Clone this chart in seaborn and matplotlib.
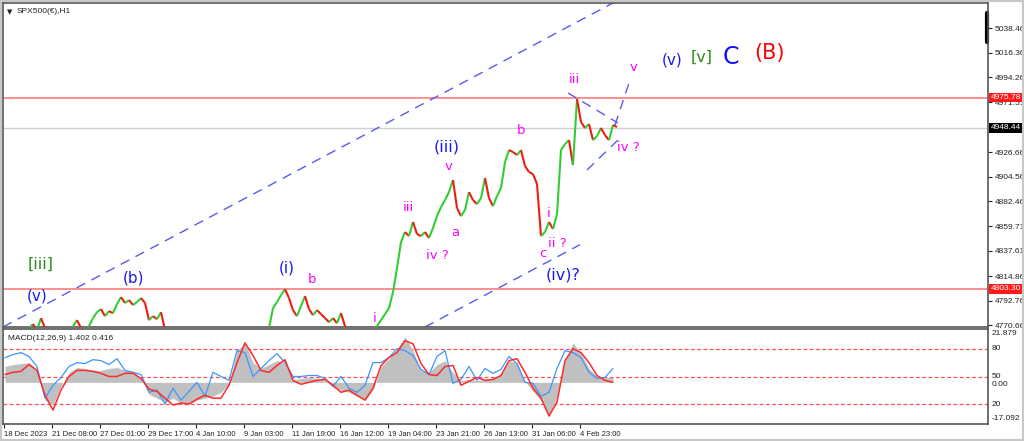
import numpy as np
import pandas as pd
import matplotlib
matplotlib.use("Agg")
import matplotlib.pyplot as plt
import matplotlib.transforms as mtrans
from matplotlib.collections import LineCollection
from matplotlib.patches import Rectangle
import seaborn as sns

# ---------------- data ----------------
close = [4757.1, 4760.7, 4758.9, 4763.4, 4760.7, 4764.3, 4767.9, 4771.5, 4766.1, 4776.9,
         4767.9, 4762.5, 4757.1, 4752.6, 4755.3, 4758.9, 4764.3, 4769.7, 4775.1, 4767.9,
         4764.3, 4769.7, 4776.9, 4782.3, 4785.0, 4778.7, 4783.2, 4781.4, 4789.6, 4795.9,
         4790.5, 4793.2, 4788.7, 4791.4, 4795.0, 4790.5, 4775.1, 4778.7, 4776.0, 4782.3,
         4766.1, 4758.9, 4753.5, 4749.9, 4752.6, 4748.1, 4751.7, 4755.3, 4758.9, 4754.4,
         4750.8, 4753.5, 4757.1, 4752.6, 4749.0, 4746.3, 4750.8, 4754.4, 4758.9, 4762.5,
         4760.7, 4757.1, 4752.6, 4757.1, 4760.7, 4764.3, 4767.9, 4785.9, 4791.4, 4797.7,
         4803.0, 4795.0, 4784.1, 4778.7, 4787.7, 4796.8, 4785.0, 4779.6, 4784.1, 4780.5,
         4776.9, 4773.3, 4776.9, 4772.4, 4781.4, 4769.7, 4764.3, 4758.9, 4755.3, 4758.0,
         4761.6, 4758.9, 4763.4, 4769.7, 4775.1, 4780.5, 4785.9, 4800.4, 4822.0, 4845.5,
         4854.5, 4850.9, 4863.5, 4852.7, 4850.9, 4854.5, 4849.1, 4858.1, 4868.9, 4877.0,
         4883.3, 4890.5, 4901.4, 4876.1, 4868.9, 4874.3, 4890.5, 4883.3, 4879.7, 4885.1,
         4903.2, 4885.1, 4877.9, 4886.9, 4894.2, 4917.6, 4928.4, 4926.6, 4923.9, 4928.4,
         4914.0, 4908.6, 4906.8, 4897.8, 4850.9, 4854.5, 4863.5, 4857.2, 4870.7, 4928.4,
         4933.8, 4937.4, 4914.9, 4974.5, 4953.7, 4948.3, 4951.9, 4937.4, 4941.0, 4948.3,
         4941.9, 4937.4, 4951.0, 4949.2]

macd_hist = [6.5, 7.3, 7.7, 8.1, 5.3, -7.3, -9.3, -1.6, 4.1, 6.1,
             5.7, 4.9, 4.9, 5.7, 6.1, 4.9, 4.5, 1.6, -4.9, -6.5,
             -8.1, -6.5, -8.5, -8.9, -7.3, -6.5, -5.7, -4.1, -0.8, 13.0,
             16.2, 8.1, 5.7, 7.3, 8.9, 8.1, 0.8, 1.6, 2.0, 1.6,
             0.8, -2.0, -3.2, -4.1, -5.7, -7.3, -3.2, 6.5, 9.7, 13.8,
             18.7, 13.0, 4.9, 4.1, 7.3, 8.9, 4.1, 0.8, 1.2, 0.8,
             1.2, 1.6, 3.2, 8.9, 8.1, 0.4, -3.7, -7.3, -14.2, -5.7,
             8.9, 16.2, 11.8, 5.7, 2.4, 2.0, 2.0]

macd_signal = [3.2, 4.1, 4.5, 7.3, 4.9, -5.3, -11.4, -3.2, 2.4, 4.9,
               4.9, 4.5, 3.7, 2.4, 2.4, 3.7, 3.7, 1.6, -2.8, -3.7,
               -6.5, -9.3, -8.5, -8.9, -6.9, -5.3, -6.5, -6.5, -1.2, 8.1,
               16.2, 11.0, 4.9, 4.1, 6.9, 9.3, 0.8, -0.8, 0.0, 0.8,
               1.2, -1.2, -4.1, -3.2, -5.3, -7.3, -2.4, 6.9, 10.2, 12.2,
               17.1, 15.8, 7.7, 3.2, 2.8, 6.5, 6.9, -1.2, 0.4, 2.0,
               0.8, 1.2, 2.8, 8.9, 9.7, 4.1, -2.4, -6.5, -13.8, -8.1,
               8.9, 13.8, 12.2, 8.1, 2.8, 0.8, 0.0]

macd_blue = [10.1, 11.4, 12.2, 10.6, 6.5, -6.5, -1.2, 2.0, 6.5, 8.1,
             7.7, 9.3, 8.9, 7.3, 9.7, 4.9, 4.1, 3.2, -4.1, -3.2,
             -8.9, -2.4, -7.3, -3.7, 0.0, -5.7, 4.1, 2.4, 0.8, 13.0,
             12.2, 2.4, 5.7, 8.9, 11.8, 8.1, 2.4, 2.4, 2.8, 2.8,
             1.6, -1.6, 2.4, -2.4, -4.1, -1.2, 8.1, 8.1, 10.2, 13.8,
             13.0, 11.0, 5.3, 3.2, 10.6, 13.0, -0.4, 1.2, 6.5, 0.8,
             5.7, 3.7, 5.3, 10.6, 7.7, 0.0, -0.4, -5.7, -4.1, 5.7,
             13.0, 12.2, 10.2, 4.1, 1.6, 2.0, 5.7]

date_labels = ["18 Dec 2023", "21 Dec 08:00", "27 Dec 01:00", "29 Dec 17:00", "4 Jan 10:00",
               "9 Jan 03:00", "11 Jan 19:00", "16 Jan 12:00", "19 Jan 04:00", "23 Jan 21:00",
               "26 Jan 13:00", "31 Jan 06:00", "4 Feb 23:00"]
date_pos = [4, 52, 100, 148, 196, 244, 292, 340, 388, 436, 484, 532, 580]

price_ticks = [5038.46, 5016.36, 4994.26, 4971.51, 4926.66, 4904.56, 4882.46,
               4859.71, 4837.61, 4814.86, 4792.76, 4770.66]
resistance = 4975.78
support = 4803.30
last_price = 4948.44

macd_levels = [13.76, 2.39, -8.98]
macd_level_labels = ["80", "50", "20"]
macd_top, macd_bottom = 21.879, -17.092

# wave labels: (text, x, price, colour, size)
labels = [
    ("[iii]", 41, 4825.7, "#2a8a1a", 11.5),
    ("(v)", 37, 4796.8, "#1a1aee", 11),
    ("(b)", 133, 4813.0, "#1a1aee", 11),
    ("(i)", 287, 4822.1, "#1a1aee", 11),
    ("b", 312, 4812.1, "#ff00ff", 9.5),
    ("i", 375, 4777.0, "#ff00ff", 9.5),
    ("iii", 408, 4877.0, "#ff00ff", 9.5),
    ("iv ?", 437, 4833.8, "#ff00ff", 9.5),
    ("(iii)", 447, 4931.2, "#1a1aee", 11.5),
    ("v", 449, 4914.0, "#ff00ff", 9.5),
    ("a", 455, 4854.5, "#ff00ff", 9.5),
    ("b", 521, 4946.5, "#ff00ff", 9.5),
    ("i", 549, 4871.6, "#ff00ff", 9.5),
    ("ii ?", 557, 4844.6, "#ff00ff", 9.5),
    ("c", 543, 4835.6, "#ff00ff", 9.5),
    ("(iv)?", 563, 4815.7, "#1a1aee", 11.5),
    ("iii", 574, 4991.6, "#ff00ff", 9.5),
    ("iv ?", 628, 4930.3, "#ff00ff", 9.5),
    ("v", 634, 5002.4, "#ff00ff", 9.5),
    ("(v)", 672, 5009.6, "#1a1aee", 11),
    ("[v]", 702, 5012.3, "#2a8a1a", 11.5),
    ("C", 731, 5012.3, "#1010ff", 17),
    ("(B)", 769, 5015.5, "#ff0000", 15),
]

# dashed wave/channel lines: (x0, p0, x1, p1)
wave_lines = [
    (3, 4768.9, 640, 5074.0),
    (425, 4768.9, 580, 4843.1),
    (568, 4979.9, 618, 4952.8),
    (587, 4910.4, 618, 4937.5),
    (615, 4951.0, 630, 4991.6),
]

# ---------------- figure ----------------
sns.set_style("white")
plt.rcParams['font.family'] = ['DejaVu Sans']
AXF = ['Liberation Sans', 'DejaVu Sans']
AXS = 6.0

W, H = 1024, 441
fig = plt.figure(figsize=(W / 100, H / 100), dpi=100)


def rect(x0, y0, x1, y1):
    return [x0 / W, 1 - y1 / H, (x1 - x0) / W, (y1 - y0) / H]


ax = fig.add_axes(rect(3, 3, 988, 327))
ax2 = fig.add_axes(rect(3, 329, 988, 424))

XMIN, XMAX = 3, 988
PMIN, PMAX = 4768.9, 5061.0

# ---- price pane ----
xs = 5 + 4 * np.arange(len(close))
cl = np.array(close)
pts = np.column_stack([xs, cl])
segs = np.stack([pts[:-1], pts[1:]], axis=1)
cols = ["#33cc33" if b >= a else "#ee1c10" for a, b in zip(cl[:-1], cl[1:])]
ax.add_collection(LineCollection(segs, colors=cols, linewidths=1.5, zorder=3))

ax.axhline(resistance, color="#ff7070", lw=1.1, zorder=2)
ax.axhline(support, color="#ff7070", lw=1.1, zorder=2)
ax.axhline(last_price, color="#cfcfcf", lw=1.0, zorder=1)

for x0, p0, x1, p1 in wave_lines:
    ax.plot([x0, x1], [p0, p1], color="#5a5af0", lw=1.0, ls=(0, (7, 5)), zorder=2)

for txt, x, p, c, s in labels:
    ax.text(x, p, txt, color=c, fontsize=s, ha="center", va="center", zorder=5)

ax.set_xlim(XMIN, XMAX)
ax.set_ylim(PMIN, PMAX)
ax.set_xticks([])
ax.yaxis.tick_right()
ax.set_yticks(price_ticks)
ax.set_yticklabels([f"{v:.2f}" for v in price_ticks], family=AXF)
ax.tick_params(axis="y", labelsize=AXS, length=3, pad=2, colors="#222222", right=True)

tr = mtrans.blended_transform_factory(ax.transAxes, ax.transData)
for val, fc in ((resistance, "#ff1a1a"), (support, "#ff1a1a"), (last_price, "black")):
    ax.text(1.0025, val, f"{val:.2f}", transform=tr, fontsize=AXS, family=AXF, color="white",
            va="center", ha="left", bbox=dict(facecolor=fc, edgecolor="none", pad=1.0),
            zorder=6, clip_on=False)
ax.plot([0.999, 0.999], [5052.0, 5025.5], transform=tr, color="black", lw=3, clip_on=False)

ax.text(0.004, 0.982, "\u25BC", transform=ax.transAxes, fontsize=5, va="top", ha="left", color="#222222")
ax.text(0.014, 0.985, "SPX500(\u20ac),H1", transform=ax.transAxes, fontsize=AXS, family=AXF,
        va="top", ha="left", color="#222222")

# ---- MACD pane ----
xm = 5 + 8 * np.arange(len(macd_hist))
mdf = pd.DataFrame({"x": xm, "hist": macd_hist, "signal": macd_signal, "blue": macd_blue})
ax2.fill_between(mdf["x"], 0, mdf["hist"], color="#c0c0c0", lw=0, zorder=1)
for lv in macd_levels:
    ax2.axhline(lv, color="#ff5050", lw=0.9, ls=(0, (3, 2)), zorder=0)
sns.lineplot(data=mdf, x="x", y="blue", ax=ax2, color="#3c96ff", lw=0.9, zorder=3)
sns.lineplot(data=mdf, x="x", y="signal", ax=ax2, color="#ff2a2a", lw=1.1, zorder=4)
ax2.set_xlim(XMIN, XMAX)
ax2.set_ylim(macd_bottom, macd_top)
ax2.set_xlabel("")
ax2.set_ylabel("")
ax2.set_yticks([])
tr2 = mtrans.blended_transform_factory(ax2.transAxes, ax2.transData)
for lv, lb in zip(macd_levels, macd_level_labels):
    ax2.text(1.004, lv, lb, transform=tr2, fontsize=AXS, family=AXF, va="center", ha="left", color="#222222")
ax2.text(1.004, macd_top - 0.6, f"{macd_top:.3f}", transform=tr2, fontsize=AXS, family=AXF,
         va="top", ha="left", color="#222222")
ax2.text(1.004, -0.9, "0.00", transform=tr2, fontsize=AXS, family=AXF, va="center", ha="left", color="#222222")
ax2.text(1.004, macd_bottom + 1.0, f"{macd_bottom:.3f}", transform=tr2, fontsize=AXS, family=AXF,
         va="bottom", ha="left", color="#222222")
ax2.text(0.005, 0.9, "MACD(12,26,9) 1.402 0.416", transform=ax2.transAxes, fontsize=AXS, family=AXF,
         va="center", ha="left", color="#222222")

ax2.set_xticks(date_pos)
ax2.set_xticklabels(date_labels, ha="left", family=AXF)
ax2.tick_params(axis="x", labelsize=5.5, length=3, pad=2, colors="#222222", bottom=True)

for a in (ax, ax2):
    for sp in a.spines.values():
        sp.set_color("#555555")
        sp.set_linewidth(1.2)

fig.patches.append(Rectangle((0, 0), 1, 1, transform=fig.transFigure, fill=False,
                             edgecolor="#c8c8c8", lw=3))

fig.savefig("out.png", dpi=100)
